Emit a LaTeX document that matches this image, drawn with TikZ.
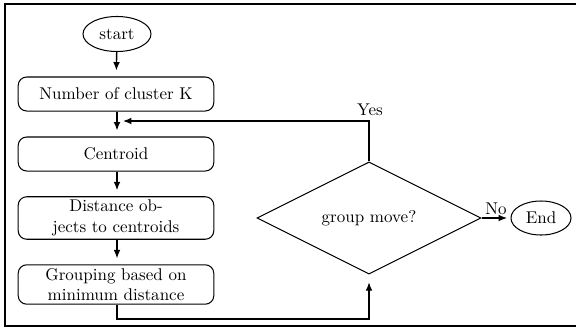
\documentclass[tikz,border=0pt]{standalone}
\usetikzlibrary{shapes.geometric,arrows.meta}
\begin{document}
\begin{tikzpicture}[x=0.588pt,y=-0.588pt,
  procbox/.style={draw,semithick,rounded corners=5pt,minimum width=115pt,align=center,inner sep=2pt},
  term/.style={draw,semithick,ellipse,inner sep=0pt},
  decide/.style={draw,semithick,diamond,inner sep=0pt,minimum width=131.7pt,minimum height=65.9pt},
  arr/.style={thick,-{Latex[length=5pt,width=4pt]},shorten >=3.5pt}]
\useasboundingbox (0,0) rectangle (576,329);
\draw[semithick] (590,4) -- (5,4) -- (5,326) -- (590,326);
\node[term,minimum width=40pt,minimum height=20.6pt] (start) at (117,34) {start};
\node[procbox,minimum height=20pt] (k) at (116,94) {Number of cluster K};
\node[procbox,minimum height=20pt] (cen) at (116,154) {Centroid};
\node[procbox,minimum height=24.7pt] (dist) at (116,218) {Distance ob-\\jects to centroids};
\node[procbox,minimum height=23pt] (grp) at (116,284.5) {Grouping based on\\minimum distance};
\node[decide] (dia) at (369,218) {group move?};
\node[term,minimum width=35.3pt,minimum height=20pt] (end) at (541,218) {End};
\coordinate (ret) at (117,121);
\coordinate (rc) at (369,121);
\coordinate (b1) at (117,319);
\coordinate (b2) at (369,319);
\node (yes) at (370,110) {Yes};
\draw[arr] (start) -- (k);
\draw[arr] (k.south -| ret) -- (cen.north -| ret);
\draw[arr] (cen.south -| ret) -- (dist.north -| ret);
\draw[arr] (dist.south -| ret) -- (grp.north -| ret);
\draw[arr] (dia.north) -- (rc) -- (ret);
\draw[arr,shorten >=4.5pt] (grp.south -| b1) -- (b1) -- (b2) -- (dia.south);
\draw[arr,shorten >=2pt] (dia.east) -- node[above,inner sep=1.5pt] {No} (end);
\end{tikzpicture}
\end{document}
